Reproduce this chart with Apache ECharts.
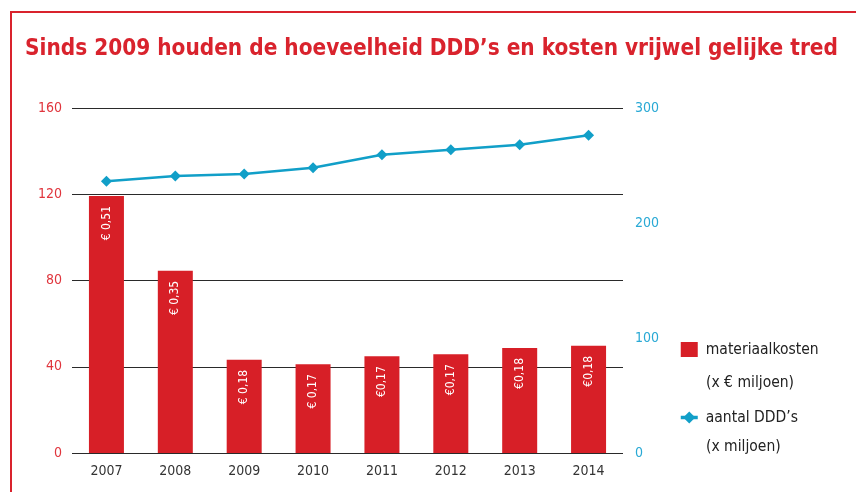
<!DOCTYPE html>
<html>
<head>
<meta charset="utf-8">
<script src="https://cdn.jsdelivr.net/npm/echarts@6/dist/echarts.min.js"></script>
<style>
html,body{margin:0;padding:0;background:#fff;}
#c{width:856px;height:492px;}
</style>
</head>
<body>
<div id="c"></div>
<script>
const categories = ['2007','2008','2009','2010','2011','2012','2013','2014'];
const kostenValues = [119.2, 84.5, 43.2, 41.2, 44.9, 45.8, 48.7, 49.7];
const kostenLabels = ['€ 0,51','€ 0,35','€ 0,18','€ 0,17','€0,17','€0,17','€0,18','€0,18'];
const dddValues = [236.3, 240.9, 242.6, 248.1, 259.4, 263.7, 268.1, 276.3];
const leftTicks = {min:0, max:160, interval:40};
const rightTicks = {min:0, max:300, interval:100};
const legendNames = ['materiaalkosten', 'aantal DDD’s'];
const legendUnits = ['(x € miljoen)', '(x miljoen)'];

const FONT = '"DejaVu Sans Condensed", "DejaVu Sans", sans-serif';
const RED = '#d71f27';
const CYAN = '#119fc8';

const chart = echarts.init(document.getElementById('c'), null, {renderer:'canvas'});
chart.setOption({
  animation: false,
  backgroundColor: '#fff',
  title: {
    text: 'Sinds 2009 houden de hoeveelheid DDD’s en kosten vrijwel gelijke tred',
    left: 20, top: 33,
    textStyle: {fontFamily: FONT, fontWeight: 'bold', fontSize: 22.4, color: '#d9232d'}
  },
  graphic: [
    {type:'line', shape:{x1:10, y1:12, x2:856, y2:12}, style:{stroke:'#d9232d', lineWidth:2}},
    {type:'line', shape:{x1:11, y1:12, x2:11, y2:492}, style:{stroke:'#d9232d', lineWidth:2}},
    {type:'text', x:706, y:383, style:{text: legendUnits[0], fontFamily: FONT, fontSize: 15.5, fill:'#222', verticalAlign:'middle'}},
    {type:'text', x:706, y:447, style:{text: legendUnits[1], fontFamily: FONT, fontSize: 15.5, fill:'#222', verticalAlign:'middle'}}
  ],
  grid: {left: 72, right: 233, top: 108, bottom: 39},
  legend: {
    orient: 'vertical',
    left: 674, top: 336.5,
    itemWidth: 17, itemHeight: 15,
    itemGap: 52,
    data: [
      {name: legendNames[0], icon: 'rect'},
      {name: legendNames[1], lineStyle: {width: 3.5}}
    ],
    textStyle: {fontFamily: FONT, fontSize: 15.5, color: '#222', lineHeight: 15, padding: [0, 0, 0, 3]}
  },
  xAxis: {
    type: 'category',
    data: categories,
    axisLine: {show: false},
    axisTick: {show: false},
    axisLabel: {fontFamily: FONT, fontSize: 14, color: '#333', margin: 11}
  },
  yAxis: [
    {
      type: 'value', min: leftTicks.min, max: leftTicks.max, interval: leftTicks.interval,
      axisLine: {show: false}, axisTick: {show: false},
      axisLabel: {fontFamily: FONT, fontSize: 14, color: '#e0353d', margin: 10},
      splitLine: {lineStyle: {color: '#2a2a2a', width: 1.2}}
    },
    {
      type: 'value', min: rightTicks.min, max: rightTicks.max, interval: rightTicks.interval,
      axisLine: {show: false}, axisTick: {show: false},
      axisLabel: {fontFamily: FONT, fontSize: 14, color: '#29a9d5', margin: 12},
      splitLine: {show: false}
    }
  ],
  series: [
    {
      name: legendNames[0],
      type: 'bar',
      yAxisIndex: 0,
      barWidth: 35,
      data: kostenValues,
      itemStyle: {color: RED},
      label: {
        show: true,
        position: 'insideTop',
        rotate: 90,
        align: 'right',
        verticalAlign: 'middle',
        distance: 10,
        fontFamily: FONT, fontSize: 12, color: '#fff',
        formatter: function (p) { return kostenLabels[p.dataIndex]; }
      }
    },
    {
      name: legendNames[1],
      type: 'line',
      yAxisIndex: 1,
      data: dddValues,
      symbol: 'diamond',
      symbolSize: 11,
      lineStyle: {color: CYAN, width: 2.5},
      itemStyle: {color: CYAN},
      z: 5
    }
  ]
});
</script>
</body>
</html>
